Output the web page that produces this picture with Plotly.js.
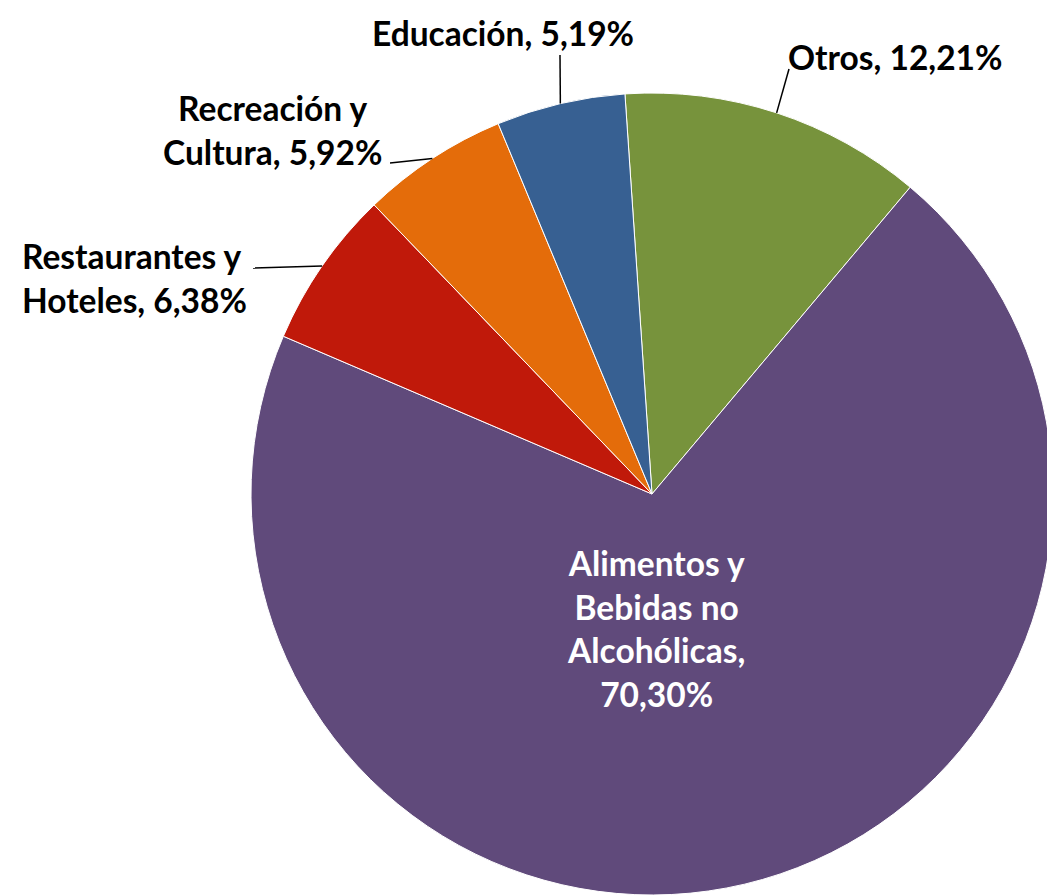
<!DOCTYPE html>
<html>
<head>
<meta charset="utf-8">
<script src="https://cdn.plot.ly/plotly-3.0.1.min.js"></script>
<style>
html,body{margin:0;padding:0;overflow:hidden;background:#fff;}
#chart{width:1060px;height:895px;}
</style>
</head>
<body>
<div id="chart"></div>
<script>
// ---- data ----
const categories = ['Otros', 'Alimentos y Bebidas no Alcohólicas', 'Restaurantes y Hoteles', 'Recreación y Cultura', 'Educación'];
const shares = [12.21, 70.30, 6.38, 5.92, 5.19];
const labelLines = ['Otros', 'Alimentos y<br>Bebidas no<br>Alcohólicas', 'Restaurantes y<br>Hoteles', 'Recreación y<br>Cultura', 'Educación'];
const labelSeparators = [', ', ',<br>', ', ', ', ', ', '];
const sliceColors = ['#77933C', '#604A7B', '#C0190A', '#E46C0A', '#376092'];

// ---- layout config ----
const W = 1060, H = 895;
const CX = 652, CY = 494, R = 401, ROT = -3.87;
const FONT = 'Lato, "Open Sans", sans-serif';
const FS = 33.5;
// text centre (px), leader line end near text (px) or null, text colour
const labelPlacement = [
  {x: 895, y: 57, end: [789, 69], color: '#000', align: 'center'},
  {x: 656, y: 628, end: null, color: '#fff', align: 'center'},
  {x: 134, y: 278, end: [253, 268], color: '#000', align: 'left'},
  {x: 272, y: 130, end: [390, 163], color: '#000', align: 'center'},
  {x: 503, y: 33, end: [560, 55], color: '#000', align: 'center'}
];

const fmt = v => v.toFixed(2).replace('.', ',') + '%';
const px = x => x / W;
const py = y => 1 - y / H;

const total = shares.reduce((a, b) => a + b, 0);
let ang = ROT;
const annotations = [];
const shapes = [];
shares.forEach((v, i) => {
  const span = v / total * 360;
  const mid = (ang + span / 2) * Math.PI / 180;
  ang += span;
  const p = labelPlacement[i];
  annotations.push({
    xref: 'paper', yref: 'paper',
    x: px(p.x), y: py(p.y), xanchor: 'center', yanchor: 'middle',
    text: labelLines[i] + labelSeparators[i] + fmt(v),
    showarrow: false, align: p.align,
    font: {family: FONT, size: FS, color: p.color, weight: 'bold'}
  });
  if (p.end) {
    const tx = CX + R * Math.sin(mid), ty = CY - R * Math.cos(mid);
    shapes.push({
      type: 'line', xref: 'paper', yref: 'paper',
      x0: px(tx), y0: py(ty), x1: px(p.end[0]), y1: py(p.end[1]),
      line: {color: '#000', width: 1.5}
    });
  }
});

const trace = {
  type: 'pie',
  labels: categories,
  values: shares,
  sort: false,
  direction: 'clockwise',
  rotation: ROT,
  textinfo: 'none',
  hoverinfo: 'label+percent',
  marker: {colors: sliceColors, line: {color: '#ffffff', width: 1}},
  domain: {x: [(CX - R) / W, (CX + R) / W], y: [1 - (CY + R) / H, 1 - (CY - R) / H]}
};

Plotly.newPlot('chart', [trace], {
  width: W, height: H,
  margin: {l: 0, r: 0, t: 0, b: 0},
  showlegend: false,
  paper_bgcolor: '#fff',
  annotations: annotations,
  shapes: shapes
}, {displayModeBar: false, staticPlot: true});
</script>
</body>
</html>
